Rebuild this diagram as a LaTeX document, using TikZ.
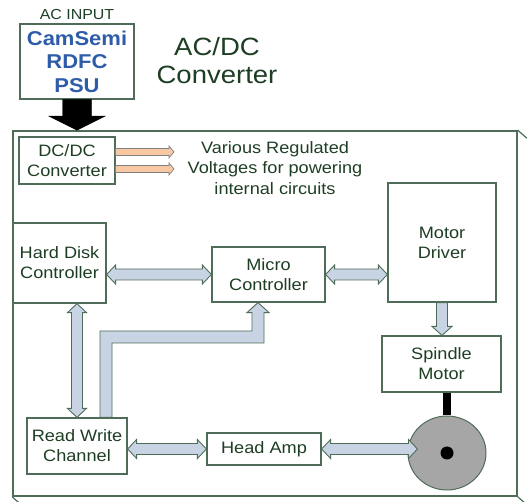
\documentclass[tikz,border=0pt]{standalone}
\usepackage{fontspec}
\setmainfont[FakeStretch=1.1]{Liberation Sans}
\usepackage{xcolor}
\usetikzlibrary{calc,shapes.geometric}

\definecolor{txtgreen}{RGB}{30,62,36}
\definecolor{edgegreen}{RGB}{78,108,88}
\definecolor{busblue}{RGB}{200,212,227}
\definecolor{powerorange}{RGB}{248,200,165}
\definecolor{psublue}{RGB}{46,92,168}
\definecolor{diskgray}{RGB}{166,166,166}

\tikzset{
  block/.style={draw=edgegreen, line width=1.2pt, fill=white, text=txtgreen, align=center,
    inner sep=0pt, font=\fontsize{16.5}{20}\selectfont},
  bus/.style={draw=edgegreen, fill=busblue, line width=0.9pt, line join=miter},
  power/.style={draw=gray, fill=powerorange, line width=0.7pt},
  feed/.style={fill=black},
}

% single headed fat arrow: [style]{from}{to}{shaft half}{head half}{head length}
\newcommand{\arrowto}[6][bus]{%
  \draw[#1] let \p1=(#2), \p2=(#3), \n1={atan2(\y2-\y1,\x2-\x1)}, \n2={veclen(\x2-\x1,\y2-\y1)} in
    [shift={(\p1)}, rotate=\n1]
    (0pt,-#4) -- (\n2-#6,-#4) -- (\n2-#6,-#5) -- (\n2,0pt)
    -- (\n2-#6,#5) -- (\n2-#6,#4) -- (0pt,#4) -- cycle;}
% double headed fat arrow
\newcommand{\arrowboth}[3][bus]{%
  \draw[#1] let \p1=(#2), \p2=(#3), \n1={atan2(\y2-\y1,\x2-\x1)}, \n2={veclen(\x2-\x1,\y2-\y1)} in
    [shift={(\p1)}, rotate=\n1]
    (0pt,0pt) -- (9pt,9.5pt) -- (9pt,5.5pt) -- (\n2-9pt,5.5pt) -- (\n2-9pt,9.5pt) -- (\n2,0pt)
    -- (\n2-9pt,-9.5pt) -- (\n2-9pt,-5.5pt) -- (9pt,-5.5pt) -- (9pt,-9.5pt) -- cycle;}

\begin{document}
\begin{tikzpicture}[x=1pt, y=-1pt]
  \useasboundingbox (0,0) rectangle (528,502);
  % Power supply
  \node[text=txtgreen, font=\fontsize{14.5}{16}\selectfont] (acin) at (77,15) {AC INPUT};
  \node[block, minimum width=114pt, minimum height=75pt, text=psublue,
    font=\fontsize{20}{23.5}\selectfont\bfseries] (psu) at (77,61.5) {CamSemi\\RDFC\\PSU};
  \node[text=txtgreen, align=center, font=\fontsize{25}{28}\selectfont] (title) at (217,61) {AC/DC\\Converter};
  % Drive board
  \node[draw=edgegreen, line width=1.6pt, minimum width=504pt, minimum height=365pt, inner sep=0pt] (board) at (265,313.5) {};
  \draw[edgegreen, line width=1.2pt] (board.north east) -- ++(9,8);
  \draw[edgegreen, line width=1.2pt] (board.south east) -- ++(9,8);
  \draw[edgegreen, line width=1.2pt] (board.south west) -- ++(9,8);
  \arrowto[feed]{psu.south}{psu.south |- board.north}{14.5pt}{28pt}{14pt}
  % Power rails
  \node[block, minimum width=96pt, minimum height=47pt] (dcdc) at (67,160.5) {DC/DC\\Converter};
  \coordinate (rail1) at (174,152);
  \coordinate (rail2) at (174,169);
  \arrowto[power]{dcdc.east |- rail1}{rail1}{3.5pt}{6pt}{5pt}
  \arrowto[power]{dcdc.east |- rail2}{rail2}{3.5pt}{6pt}{5pt}
  \node[text=txtgreen, align=center, font=\fontsize{16.5}{20.5}\selectfont] (rails) at (275,168)
    {Various Regulated\\Voltages for powering\\internal circuits};
  % Blocks
  \node[block, minimum width=93pt, minimum height=80pt] (hdc) at (59.5,263) {Hard Disk\\Controller};
  \node[block, minimum width=113pt, minimum height=55pt] (mc) at (268.5,274.5) {Micro\\Controller};
  \node[block, minimum width=108pt, minimum height=119pt] (md) at (442,242.5) {Motor\\Driver};
  \node[block, minimum width=119pt, minimum height=56pt] (sm) at (441.5,364) {Spindle\\Motor};
  \node[block, minimum width=100pt, minimum height=56pt] (rwc) at (77,446) {Read Write\\Channel};
  \node[block, minimum width=114pt, minimum height=32pt] (ha) at (264,449) {Head Amp};
  % Disk
  \node[ellipse, draw=edgegreen, fill=diskgray, line width=1pt, minimum width=78pt,
    minimum height=74pt, inner sep=0pt] (disk) at (447,453) {};
  \fill[black] (disk.center) circle (6.5pt);
  \draw[line width=8pt] (disk.north |- sm.south) -- (disk.north);
  % Buses
  \arrowboth{hdc.east |- mc.west}{mc.west}
  \arrowboth{mc.east}{mc.east -| md.west}
  \arrowto{md.south}{md.south |- sm.north}{5.5pt}{10pt}{9pt}
  \arrowboth{rwc.north |- hdc.south}{rwc.north}
  \arrowboth{rwc.east |- ha.west}{ha.west}
  \arrowboth{ha.east}{$(ha.east -| disk.west)+(10,0)$}
  \coordinate (rwtap) at (106,337);
  \coordinate (mctap) at (258,337);
  \draw[bus] ($(rwc.north -| rwtap)+(-6,0)$) |- ($(mctap)+(-6,-6)$) -- ($(mc.south -| mctap)+(-6,10)$)
    -- ++(-5,0) -- (mc.south -| mctap) -- ++(11,10) -- ++(-5,0) |- ($(rwtap)+(6,6)$)
    -- ($(rwc.north -| rwtap)+(6,0)$) -- cycle;
\end{tikzpicture}
\end{document}
